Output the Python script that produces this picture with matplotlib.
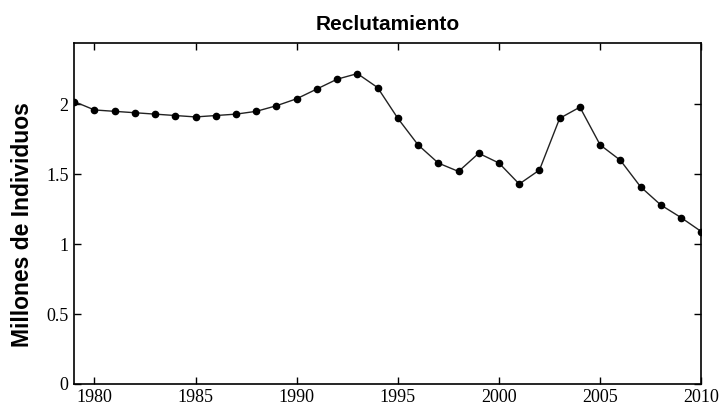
import matplotlib
matplotlib.use("Agg")
import matplotlib.pyplot as plt

years = list(range(1979, 2011))
millones = [2.02, 1.96, 1.95, 1.94, 1.93, 1.92, 1.91, 1.92, 1.93, 1.95,
            1.99, 2.04, 2.11, 2.18, 2.22, 2.12, 1.90, 1.71, 1.58, 1.52,
            1.65, 1.58, 1.43, 1.53, 1.90, 1.98, 1.71, 1.60, 1.41, 1.28,
            1.19, 1.09]
xticks = [1980, 1985, 1990, 1995, 2000, 2005, 2010]
yticks = [0, 0.5, 1, 1.5, 2]
yticklabels = ['0', '0.5', '1', '1.5', '2']

fig = plt.figure(figsize=(7.2, 4.08), dpi=100)
ax = fig.add_axes([0.103, 0.059, 0.871, 0.836])

ax.plot(years, millones, color='#222222', lw=1.0, marker='o', ms=4.5,
        markerfacecolor='black', markeredgecolor='black')

ax.set_xlim(1979, 2010)
ax.set_ylim(0, 2.44)
ax.set_xticks(xticks)
ax.set_yticks(yticks)
ax.set_yticklabels(yticklabels)
ax.tick_params(direction='in', top=True, right=True, length=5, width=1,
               labelsize=13, pad=4)
for lab in ax.get_xticklabels() + ax.get_yticklabels():
    lab.set_family('Liberation Serif')
for s in ax.spines.values():
    s.set_linewidth(1.2)

ax.set_title('Reclutamiento', fontsize=15, fontweight='bold',
             family='Liberation Sans', pad=9)
ax.set_ylabel('Millones de Individuos', fontsize=16.5, fontweight='bold',
              family='Liberation Sans')
ax.yaxis.set_label_coords(-0.064, 0.466)

fig.savefig('out.png', dpi=100)
